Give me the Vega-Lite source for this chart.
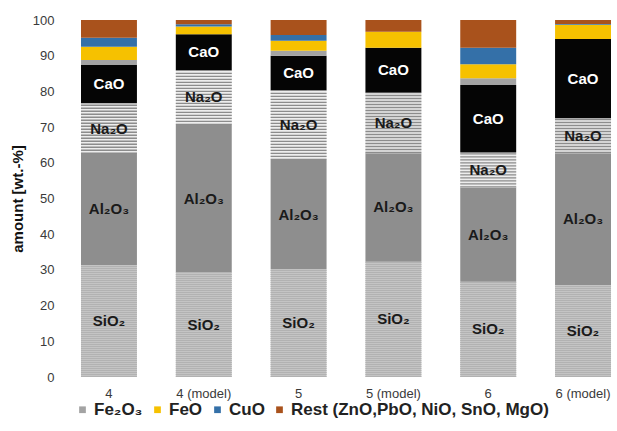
{
  "$schema": "https://vega.github.io/schema/vega-lite/v6.json",
  "width": 530,
  "height": 357,
  "autosize": "none",
  "padding": {"left": 81, "top": 20, "right": 6, "bottom": 54},
  "background": "white",
  "config": {
    "view": {"stroke": null},
    "font": "Liberation Sans",
    "axisY": {
      "labelOverlap": false,
      "tickCount": 11,
      "grid": false,
      "domain": false,
      "ticks": false,
      "labelPadding": 27,
      "labelFont": "Liberation Sans",
      "labelFontSize": 13,
      "labelColor": "#3a3a3a",
      "titleFont": "Liberation Sans",
      "titleFontSize": 15,
      "titleFontWeight": "bold",
      "titleColor": "#111111",
      "titlePadding": 7
    }
  },
  "data": {
    "values": [
      {"sample": "4", "oxide": "SiO₂", "value": 31.4},
      {"sample": "4", "oxide": "Al₂O₃", "value": 31.1},
      {"sample": "4", "oxide": "Na₂O", "value": 14.2},
      {"sample": "4", "oxide": "CaO", "value": 10.7},
      {"sample": "4", "oxide": "Fe₂O₃", "value": 1.4},
      {"sample": "4", "oxide": "FeO", "value": 3.7},
      {"sample": "4", "oxide": "CuO", "value": 2.5},
      {"sample": "4", "oxide": "Rest (ZnO,PbO, NiO, SnO, MgO)", "value": 5.0},

      {"sample": "4 (model)", "oxide": "SiO₂", "value": 29.3},
      {"sample": "4 (model)", "oxide": "Al₂O₃", "value": 41.3},
      {"sample": "4 (model)", "oxide": "Na₂O", "value": 15.4},
      {"sample": "4 (model)", "oxide": "CaO", "value": 10.0},
      {"sample": "4 (model)", "oxide": "FeO", "value": 2.2},
      {"sample": "4 (model)", "oxide": "CuO", "value": 0.6},
      {"sample": "4 (model)", "oxide": "Rest (ZnO,PbO, NiO, SnO, MgO)", "value": 1.2},

      {"sample": "5", "oxide": "SiO₂", "value": 30.2},
      {"sample": "5", "oxide": "Al₂O₃", "value": 30.6},
      {"sample": "5", "oxide": "Na₂O", "value": 19.6},
      {"sample": "5", "oxide": "CaO", "value": 9.6},
      {"sample": "5", "oxide": "Fe₂O₃", "value": 1.4},
      {"sample": "5", "oxide": "FeO", "value": 2.8},
      {"sample": "5", "oxide": "CuO", "value": 1.6},
      {"sample": "5", "oxide": "Rest (ZnO,PbO, NiO, SnO, MgO)", "value": 4.2},

      {"sample": "5 (model)", "oxide": "SiO₂", "value": 32.3},
      {"sample": "5 (model)", "oxide": "Al₂O₃", "value": 30.4},
      {"sample": "5 (model)", "oxide": "Na₂O", "value": 16.9},
      {"sample": "5 (model)", "oxide": "CaO", "value": 12.6},
      {"sample": "5 (model)", "oxide": "FeO", "value": 4.5},
      {"sample": "5 (model)", "oxide": "Rest (ZnO,PbO, NiO, SnO, MgO)", "value": 3.3},

      {"sample": "6", "oxide": "SiO₂", "value": 26.7},
      {"sample": "6", "oxide": "Al₂O₃", "value": 26.4},
      {"sample": "6", "oxide": "Na₂O", "value": 9.8},
      {"sample": "6", "oxide": "CaO", "value": 18.9},
      {"sample": "6", "oxide": "Fe₂O₃", "value": 1.9},
      {"sample": "6", "oxide": "FeO", "value": 3.9},
      {"sample": "6", "oxide": "CuO", "value": 4.6},
      {"sample": "6", "oxide": "Rest (ZnO,PbO, NiO, SnO, MgO)", "value": 7.8},

      {"sample": "6 (model)", "oxide": "SiO₂", "value": 25.8},
      {"sample": "6 (model)", "oxide": "Al₂O₃", "value": 36.9},
      {"sample": "6 (model)", "oxide": "Na₂O", "value": 9.8},
      {"sample": "6 (model)", "oxide": "CaO", "value": 22.2},
      {"sample": "6 (model)", "oxide": "FeO", "value": 4.0},
      {"sample": "6 (model)", "oxide": "CuO", "value": 0.2},
      {"sample": "6 (model)", "oxide": "Rest (ZnO,PbO, NiO, SnO, MgO)", "value": 1.1}
    ]
  },
  "transform": [
    {"calculate": "indexof(['SiO₂','Al₂O₃','Na₂O','CaO','Fe₂O₃','FeO','CuO','Rest (ZnO,PbO, NiO, SnO, MgO)'], datum.oxide)", "as": "layerIndex"},
    {"stack": "value", "groupby": ["sample"], "sort": [{"field": "layerIndex", "order": "ascending"}], "as": ["v0", "v1"]},
    {"calculate": "(datum.v0 + datum.v1) / 2", "as": "vmid"}
  ],
  "encoding": {
    "x": {
      "field": "sample",
      "type": "nominal",
      "sort": ["4", "4 (model)", "5", "5 (model)", "6", "6 (model)"],
      "scale": {"paddingInner": 0.41, "paddingOuter": 0},
      "axis": {
        "title": null,
        "labelAngle": 0,
        "domain": false,
        "ticks": false,
        "labelPadding": 10,
        "labelFont": "Liberation Sans",
        "labelFontSize": 13,
        "labelColor": "#3a3a3a"
      }
    }
  },
  "layer": [
    {
      "mark": {"type": "bar"},
      "encoding": {
        "y": {
          "field": "v0",
          "type": "quantitative",
          "scale": {"domain": [0, 100], "nice": false},
          "axis": {"title": "amount [wt.-%]"}
        },
        "y2": {"field": "v1"},
        "color": {
          "field": "oxide",
          "type": "nominal",
          "scale": {
            "domain": ["SiO₂", "Al₂O₃", "Na₂O", "CaO", "Fe₂O₃", "FeO", "CuO", "Rest (ZnO,PbO, NiO, SnO, MgO)"],
            "range": ["#c4c4c4", "#8e8e8e", "#ededed", "#050505", "#a3a3a3", "#f6c100", "#3470a8", "#a9521c"]
          },
          "legend": {
            "values": ["Fe₂O₃", "FeO", "CuO", "Rest (ZnO,PbO, NiO, SnO, MgO)"],
            "title": null,
            "orient": "none",
            "direction": "horizontal",
            "legendX": -7,
            "legendY": 381,
            "symbolType": "square",
            "symbolSize": 45,
            "symbolStrokeWidth": 0,
            "labelFont": "Liberation Sans",
            "labelFontSize": 17,
            "labelFontWeight": "bold",
            "labelColor": "#222222",
            "labelOffset": 3,
            "labelLimit": 0,
            "columnPadding": 6
          }
        }
      }
    },
    {
      "transform": [{"filter": "datum.oxide === 'SiO₂'"}],
      "mark": {"type": "rule", "strokeWidth": 56, "strokeDash": [1, 1], "color": "#b2b2b2"},
      "encoding": {
        "y": {"field": "v0", "type": "quantitative", "title": "amount [wt.-%]"},
        "y2": {"field": "v1"}
      }
    },
    {
      "transform": [{"filter": "datum.oxide === 'Na₂O'"}],
      "mark": {"type": "rule", "strokeWidth": 56, "strokeDash": [1.3, 1.7], "color": "#8c8c8c"},
      "encoding": {
        "y": {"field": "v0", "type": "quantitative", "title": "amount [wt.-%]"},
        "y2": {"field": "v1"}
      }
    },
    {
      "transform": [{"filter": "indexof(['SiO₂','Al₂O₃','Na₂O','CaO'], datum.oxide) >= 0"}],
      "mark": {"type": "text", "font": "Liberation Sans", "fontSize": 15, "fontWeight": "bold", "align": "center", "baseline": "middle"},
      "encoding": {
        "y": {"field": "vmid", "type": "quantitative", "title": "amount [wt.-%]"},
        "text": {"field": "oxide"},
        "color": {
          "condition": {"test": "datum.oxide === 'CaO'", "value": "#ffffff"},
          "value": "#1a1a1a"
        }
      }
    }
  ]
}
